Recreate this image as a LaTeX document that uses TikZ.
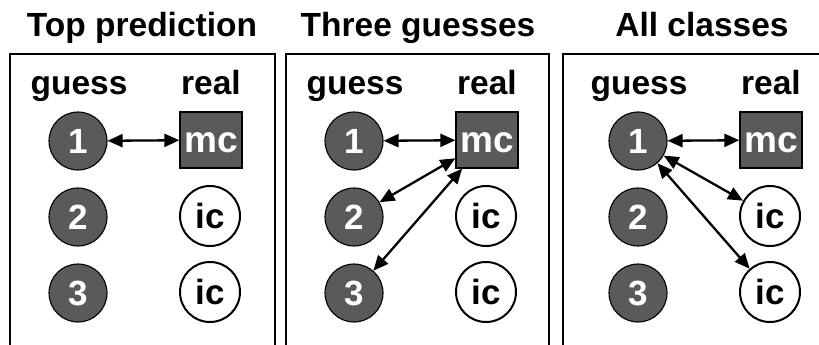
\documentclass[tikz,border=0pt]{standalone}
\usepackage{fontspec}
\setmainfont{Liberation Sans}
\usetikzlibrary{arrows.meta}
\definecolor{dgray}{HTML}{5A5A5A}
\begin{document}
\begin{tikzpicture}[x=1pt,y=-1pt,
  bigtext/.style={font=\fontsize{33.5}{38}\selectfont\bfseries, inner sep=0pt},
  titletext/.style={bigtext, anchor=base},
  frameline/.style={draw=black, line width=2pt},
  guessnode/.style={circle, draw=black, line width=1.1pt, fill=dgray, text=white,
    minimum size=58pt, inner sep=0pt, font=\fontsize{35}{38}\selectfont\bfseries},
  realbox/.style={rectangle, draw=black, line width=1.3pt, fill=dgray, text=white,
    minimum width=62pt, minimum height=56pt, inner sep=0pt, text height=25pt, text depth=0pt,
    font=\fontsize{37}{40}\selectfont\bfseries},
  realcirc/.style={circle, draw=black, line width=2pt, fill=white,
    minimum size=60pt, inner sep=0pt, font=\fontsize{35}{38}\selectfont\bfseries},
  dbl/.style={line width=2.3pt, {Triangle[length=15pt,width=13pt]}-{Triangle[length=15pt,width=13pt]}}
]
\useasboundingbox (0,0) rectangle (819,345);
% frames
\draw[frameline] (10,346) -- (10,54) -- (275,54) -- (275,346);
\draw[frameline] (286,346) -- (286,54) -- (549,54) -- (549,346);
\draw[frameline] (563,346) -- (563,54) -- (820,54);
% panels
\foreach \p/\n/\t in {10/a/Top prediction,286/b/Three guesses,570/c/All classes}{
  \node[titletext] (t\n) at (\p+132,37) {\t};
  \node[titletext] (lg\n) at (\p+69,94) {guess};
  \node[titletext] (lr\n) at (\p+201,94) {real};
  \node[guessnode] (ga\n) at (\p+68,141) {1};
  \node[guessnode] (gb\n) at (\p+68,217) {2};
  \node[guessnode] (gc\n) at (\p+68,293) {3};
  \node[realbox] (m\n) at (\p+201,140) {mc};
  \node[realcirc] (ib\n) at (\p+200,216) {ic};
  \node[realcirc] (ic\n) at (\p+200,292) {ic};
}
% connectors
\draw[dbl] (gaa) -- (ma);
\draw[dbl] (gab) -- (mb);
\draw[dbl] (gbb) -- (mb);
\draw[dbl] (gcb) -- (mb);
\draw[dbl] (gac) -- (mc);
\draw[dbl] (gac) -- (ibc);
\draw[dbl] (gac) -- (icc);
\end{tikzpicture}
\end{document}
